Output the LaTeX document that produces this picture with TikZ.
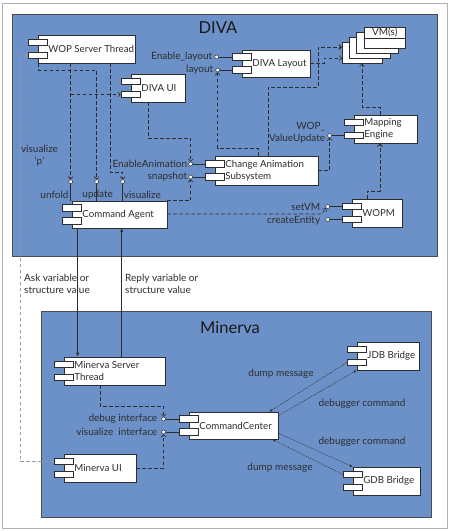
\documentclass[tikz,border=0pt]{standalone}
\usepackage{fontspec}
\setmainfont{Lato}
\usetikzlibrary{arrows.meta,calc}
\definecolor{divablue}{RGB}{108,145,200}
\definecolor{ink}{RGB}{45,45,45}
\newcommand\cmpnt[6]{%
  \node[compbox,minimum width={(#4-#2)*1pt},minimum height={(#5-#3)*1pt}] (#1) at ({(#2+#4)/2},{(#3+#5)/2}) {};
  \node[smallbox] (#1-a) at ([yshift=6.5pt]#1.west) {};
  \node[smallbox] (#1-b) at ([yshift=-6.5pt]#1.west) {};
  \node[comptext] (#1-t) at ([xshift=10.5pt]#1.west) {#6};
}
\begin{document}
\begin{tikzpicture}[x=1pt,y=-1pt,
  font=\fontsize{10}{12}\selectfont,
  frame/.style={draw=black!30,line width=1pt},
  pkg/.style={draw=ink!85,fill=divablue,line width=0.8pt},
  compbox/.style={draw=ink,fill=white,line width=0.6pt,inner sep=0pt},
  smallbox/.style={draw=ink,fill=white,line width=0.6pt,inner sep=0pt,minimum width=19.5pt,minimum height=6.5pt},
  comptext/.style={inner sep=0pt,align=left,text=ink,anchor=west,font=\fontsize{9.7}{12}\selectfont},
  portc/.style={circle,draw=ink,fill=white,line width=0.5pt,inner sep=0pt,minimum size=4pt},
  portline/.style={draw=ink,line width=0.6pt},
  lbl/.style={inner sep=0pt,text=ink},
  title/.style={inner sep=0pt,text=black!90,font=\fontsize{16.5}{18}\selectfont},
  dep/.style={draw=ink,line width=0.6pt,dash pattern=on 3.5pt off 2.5pt,-{Straight Barb[length=2.5pt,width=5pt]}},
  depthick/.style={dep,line width=1pt},
  depgray/.style={dep,draw=black!40},
  ask/.style={draw=ink,line width=1pt,-{Latex[length=4pt,width=3.5pt]}},
  reply/.style={draw=ink,line width=0.5pt,-{Latex[length=3.5pt,width=3pt]}},
  msg/.style={draw=ink,line width=0.45pt,dash pattern=on 1.5pt off 1pt,-{Latex[length=3pt,width=2.5pt]}}
]
\useasboundingbox (0,0) rectangle (450,531);
\fill[white] (0,0) rectangle (450,531);
\draw[frame] (2.5,3) rectangle (447,528);

% packages
\draw[pkg] (12,14) rectangle (437,256);
\node[title] (divat) at (218,28) {DIVA};
\draw[pkg] (41,311) rectangle (431,517);
\node[title] (minervat) at (230,328) {Minerva};

% DIVA components
\cmpnt{wop}{38}{35}{135}{63}{WOP Server Thread}
\cmpnt{divaui}{131}{74}{185}{102}{DIVA UI}
\cmpnt{dl}{242}{50}{310}{77}{DIVA Layout}
\cmpnt{me}{354}{115}{417}{143}{Mapping\\Engine}
\cmpnt{cas}{215}{156}{318}{185}{Change Animation\\Subsystem}
\cmpnt{ca}{72}{201}{167}{228}{Command Agent}
\cmpnt{wopm}{352}{199}{402}{227}{WOPM}

% VM(s) stack
\node[compbox,minimum width=40pt,minimum height=21pt,anchor=north west] (vm1) at (342,42) {};
\node[compbox,minimum width=41pt,minimum height=21pt,anchor=north west] (vm2) at (349,37) {};
\node[compbox,minimum width=42pt,minimum height=21pt,anchor=north west] (vm3) at (356,32) {};
\node[compbox,minimum width=41pt,minimum height=21pt,anchor=north west] (vm) at (364,27) {};
\draw[ink,line width=0.6pt] ($(vm.north west)+(0,11)$) -- ($(vm.north east)+(0,11)$);
\node[lbl] (vmt) at ($(vm.north)+(0,5.5)$) {VM(s)};

% Minerva components
\cmpnt{mst}{64}{357}{165}{385}{Minerva Server\\Thread}
\cmpnt{mui}{64}{454}{136}{482}{Minerva UI}
\cmpnt{cc}{189}{412}{278}{439}{CommandCenter}
\cmpnt{jdb}{357}{342}{419}{370}{JDB Bridge}
\cmpnt{gdb}{353}{467}{420}{495}{GDB Bridge}

% ports
\node[portc] (pel) at ($(dl-a.west)+(-15,0)$) {};
\node[portc] (play) at ($(dl-b.west)+(-14,0)$) {};
\node[portc] (pea) at ($(cas-a.west)+(-14,0)$) {};
\node[portc] (psn) at ($(cas-b.west)+(-14,0)$) {};
\node[portc] (pwv) at ($(me-b.west)+(-14,0)$) {};
\node[portc] (psv) at ($(wopm-a.west)+(-14,0)$) {};
\node[portc] (pce) at ($(wopm-b.west)+(-14,0)$) {};
\node[portc] (pdb) at ($(cc-a.west)+(-15,0)$) {};
\node[portc] (pvz) at ($(cc-b.west)+(-15,0)$) {};
\node[portc] (pun) at ($(ca.north west)+(-1,-19)$) {};
\node[portc] (pup) at ($(ca.north west)+(25,-19)$) {};
\node[portc] (pvi) at ($(ca.north west)+(51,-19)$) {};

\draw[portline] (pel) -- (dl-a);
\draw[portline] (play) -- (dl-b);
\draw[portline] (pea) -- (cas-a);
\draw[portline] (psn) -- (cas-b);
\draw[portline] (pwv) -- (me-b);
\draw[portline] (psv) -- (wopm-a);
\draw[portline] (pce) -- (wopm-b);
\draw[portline] (pdb) -- (cc-a);
\draw[portline] (pvz) -- (cc-b);
\draw[portline] (pun) -- (pun |- ca.north);
\draw[portline] (pup) -- (pup |- ca.north);
\draw[portline] (pvi) -- (pvi |- ca.north);

% port labels
\node[lbl,anchor=east] (lel) at ($(pel.west)+(-2,0)$) {Enable\_layout};
\node[lbl,anchor=east] (llay) at ($(play.west)+(-2,0)$) {layout};
\node[lbl,anchor=east] (lea) at ($(pea.west)+(-1,0)$) {EnableAnimation};
\node[lbl,anchor=east] (lsn) at ($(psn.west)+(-1,0)$) {snapshot};
\node[lbl,anchor=east,align=right] (lwv) at ($(pwv.west)+(-2,-3)$) {WOP\_\\ValueUpdate};
\node[lbl,anchor=east] (lsv) at ($(psv.west)+(-5,0)$) {setVM};
\node[lbl,anchor=east] (lce) at ($(pce.west)+(-5,1)$) {createEntity};
\node[lbl,anchor=east] (ldb) at ($(pdb.west)+(-4,0)$) {debug interface};
\node[lbl,anchor=east] (lvz) at ($(pvz.west)+(-4,0)$) {visualize\ \ interface};
\node[lbl,anchor=east] (lun) at ($(pun.south)+(-2,11)$) {unfold};
\node[lbl] (lup) at ($(pup.south)+(1,11)$) {update};
\node[lbl,anchor=west] (lvi) at ($(pvi.south)+(1,11)$) {visualize};

% dependencies in DIVA
\draw[dep] (wop.south -| pun) -- (pun.north);
\draw[dep] (pun |- divaui-b) -- (divaui-b.west);
\draw[dep] ($(wop.south west)+(1,0)$) -- ++(0,7) -| (pup.north);
\coordinate (v1) at (110,172);
\draw[dep] (wop.south -| v1) -- (v1) -| (pvi.north);
\coordinate (d1) at (148,138);
\draw[dep] (divaui.south -| d1) -- (d1) -| (pea.north);
\draw[dep] (ca.north east) -| (psn.south);
\coordinate (l1) at (258,148);
\draw[dep] (cas.north -| l1) -- (l1) -| (play.south);
\coordinate (t1) at (268,87);
\coordinate (t2) at (318,47);
\draw[depthick] (cas.north -| t1) -- (t1) -| (t2) -- (t2 -| vm1.west);
\coordinate (k1) at (324,58);
\draw[dep] (dl.east) -| (k1) -- (k1 -| vm1.west);
\draw[dep] (cas.east) -| (pwv.south);
\coordinate (m1) at (380,107);
\coordinate (m2) at (362,107);
\draw[dep] (me.north -| m1) -- (m1) -- (m2) -- (m2 |- vm1.south);
\coordinate (w1) at (367,191);
\coordinate (w2) at (380,191);
\draw[depthick] (wopm.north -| w1) -- (w1) -- (w2) -- (w2 |- me.south);
\coordinate (s1) at (322,214);
\draw[dep] (ca.east |- s1) -- (s1) -- (psv.south west);

% visualize 'p'
\coordinate (vp) at (20,460);
\draw[depgray] (mui-a.west) -- (mui-a.west -| vp) |- (wop-b.west);
\node[lbl,align=center] (lvp) at (39.5,156) {visualize\\\textquotesingle p\textquotesingle};

% Ask / Reply
\draw[ask] ($(ca.south west)+(6,0)$) -- ($(mst.north west)+(14,0)$);
\draw[reply] ($(mst.north west)+(58,0)$) -- ($(ca.south west)+(50,0)$);
\node[lbl,anchor=west,align=left] (lask) at (24,284) {Ask variable or\\structure value};
\node[lbl,anchor=west,align=left] (lrep) at (125,284) {Reply variable or\\structure value};

% Minerva dependencies
\coordinate (g1) at (100,406);
\draw[dep] (mst.south -| g1) -- (g1) -| (pdb.north);
\draw[dep] (mui.east) -| (pvz.south);

% bridge messages
\draw[msg] (jdb-b.west) -- ($(cc.north east)+(-9,0)$);
\draw[msg] ($(cc.north east)+(0,4)$) -- (jdb.south west);
\draw[msg] ($(cc.south east)+(0,-6)$) -- (gdb.north west);
\draw[msg] (gdb-a.west) -- ($(cc.south east)+(-6,0)$);
\node[lbl] (ldm1) at (281,374) {dump message};
\node[lbl] (ldc1) at (362,404) {debugger command};
\node[lbl] (ldc2) at (362,442) {debugger command};
\node[lbl] (ldm2) at (280,468) {dump message};
\end{tikzpicture}
\end{document}
